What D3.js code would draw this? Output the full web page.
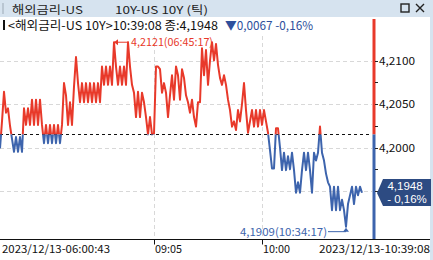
<!DOCTYPE html>
<html>
<head>
<meta charset="utf-8">
<script src="https://cdn.jsdelivr.net/npm/d3@7"></script>
<style>
  body { margin: 0; background: #fff; }
  svg text { font-family: "Noto Sans CJK KR", "DejaVu Sans", sans-serif; }
</style>
</head>
<body>
<div id="chart"></div>
<script>
// tick prices (one value per tick, left to right)
const ticks = [
  4.1999, 4.2030, 4.2064, 4.2040, 4.2045, 4.2025, 4.2010, 4.1995, 4.2012, 4.1995,
  4.2012, 4.1995, 4.2045, 4.2026, 4.2045, 4.2026, 4.2055, 4.2026, 4.2055, 4.2026,
  4.2055, 4.2026, 4.2005, 4.2026, 4.2005, 4.2026, 4.2005, 4.2026, 4.2005, 4.2026,
  4.2005, 4.2026, 4.2074, 4.2060, 4.2026, 4.2052, 4.2026, 4.2070, 4.2104, 4.2074,
  4.2052, 4.2074, 4.2052, 4.2074, 4.2052, 4.2074, 4.2052, 4.2074, 4.2052, 4.2074,
  4.2052, 4.2093, 4.2072, 4.2093, 4.2072, 4.2093, 4.2072, 4.2121, 4.2093, 4.2072,
  4.2093, 4.2072, 4.2093, 4.2072, 4.2121, 4.2093, 4.2072, 4.2063, 4.2035, 4.2064,
  4.2035, 4.2063, 4.2052, 4.2035, 4.2015, 4.2035, 4.2015, 4.2016, 4.2093, 4.2093,
  4.2090, 4.2063, 4.2074, 4.2063, 4.2035, 4.2060, 4.2083, 4.2055, 4.2093, 4.2083,
  4.2055, 4.2090, 4.2080, 4.2060, 4.2052, 4.2040, 4.2055, 4.2035, 4.2024, 4.2052,
  4.2052, 4.2114, 4.2083, 4.2112, 4.2072, 4.2100, 4.2121, 4.2100, 4.2119, 4.2095,
  4.2080, 4.2072, 4.2083, 4.2072, 4.2055, 4.2043, 4.2024, 4.2030, 4.2020, 4.2043,
  4.2030, 4.2050, 4.2074, 4.2043, 4.2017, 4.2030, 4.2043, 4.2024, 4.2043, 4.2024,
  4.2043, 4.2026, 4.2043, 4.2030, 4.2017, 4.1997, 4.1976, 4.1976, 4.2022, 4.2022,
  4.2000, 4.1974, 4.1994, 4.1974, 4.1990, 4.1975, 4.1994, 4.1974, 4.1948, 4.1960,
  4.1948, 4.1974, 4.1994, 4.1974, 4.1994, 4.1974, 4.1948, 4.1994, 4.1985, 4.1994,
  4.2024, 4.1994, 4.1985, 4.1970, 4.1960, 4.1955, 4.1928, 4.1955, 4.1928, 4.1955,
  4.1928, 4.1940, 4.1928, 4.1909, 4.1935, 4.1945, 4.1955, 4.1935, 4.1955, 4.1945,
  4.1955, 4.1948
];

const prevClose = 4.2015;
const yGrid = [4.2100, 4.2050, 4.2000, 4.1950];
const yLabels = [4.2100, 4.2050, 4.2000];
const yMinor = [4.2075, 4.2025, 4.1975];
const xTickIdx = [77, 131];
const xTickText = ["09:05", "10:00"];
const startText = "2023/12/13-06:00:43";
const endText = "2023/12/13-10:39:08";
const maxText = "4,2121(06:45:17)";
const minText = "4,1909(10:34:17)";

const W = 433, H = 260;
const red = "#e8392a", blue = "#3d64ad";
const fmt = v => d3.format(".4f")(v).replace(".", ",");

const svg = d3.select("#chart").append("svg")
    .attr("width", W).attr("height", H);

// window frame and title bar
svg.append("rect").attr("x", 0).attr("y", 0).attr("width", W).attr("height", H).attr("fill", "#d6e3ef");
svg.append("rect").attr("x", 0).attr("y", 17).attr("width", W - 3).attr("height", H - 17).attr("fill", "#fff");
svg.append("rect").attr("x", 2).attr("y", 3).attr("width", 2).attr("height", 11).attr("fill", "#b9c6d2");

svg.append("text").attr("x", 12).attr("y", 13.5).attr("font-size", 11).attr("fill", "#222")
    .attr("textLength", 71).attr("lengthAdjust", "spacingAndGlyphs").text("해외금리-US");
svg.append("text").attr("x", 115).attr("y", 13.5).attr("font-size", 11).attr("fill", "#222")
    .attr("textLength", 93).attr("lengthAdjust", "spacingAndGlyphs").text("10Y-US 10Y (틱)");
svg.append("rect").attr("x", 401).attr("y", 4).attr("width", 8).attr("height", 8)
    .attr("fill", "none").attr("stroke", "#222").attr("stroke-width", 1.4);
svg.append("path").attr("d", "M416,4L424,12M424,4L416,12").attr("stroke", "#222").attr("stroke-width", 1.4);

// header line
svg.append("rect").attr("x", 3).attr("y", 20).attr("width", 2).attr("height", 10).attr("fill", "#111");
svg.append("text").attr("x", 8).attr("y", 30).attr("font-size", 12).attr("fill", "#111")
    .attr("textLength", 210).attr("lengthAdjust", "spacingAndGlyphs")
    .text("<해외금리-US 10Y>10:39:08 종:4,1948");
svg.append("text").attr("x", 225).attr("y", 30).attr("font-size", 12).attr("fill", "#2e4f9c")
    .attr("textLength", 88).attr("lengthAdjust", "spacingAndGlyphs")
    .text("▼0,0067 -0,16%");

// scales
const x = d3.scaleLinear().domain([0, ticks.length - 1]).range([0, 362]);
const y = d3.scaleLinear().domain([4.19, 4.21]).range([234.5, 60.5]);
const axisX = 374, axisY = 239.5, plotTop = 19;

// grid
const g = svg.append("g");
g.selectAll(".hgrid").data(yGrid).join("line")
    .attr("x1", 0).attr("x2", axisX - 2)
    .attr("y1", d => Math.round(y(d)) + 0.5).attr("y2", d => Math.round(y(d)) + 0.5)
    .attr("stroke", "#d8d8d8").attr("stroke-dasharray", "4,3");
g.selectAll(".vgrid").data(xTickIdx).join("line")
    .attr("x1", d => Math.round(x(d)) + 0.5).attr("x2", d => Math.round(x(d)) + 0.5)
    .attr("y1", 36).attr("y2", axisY)
    .attr("stroke", "#d8d8d8").attr("stroke-dasharray", "4,3");

// previous close line
const yc = Math.round(y(prevClose)) + 0.5;
g.append("line").attr("x1", 0).attr("x2", axisX - 2).attr("y1", yc).attr("y2", yc)
    .attr("stroke", "#111").attr("stroke-dasharray", "3,3");

// price line, red above previous close, blue below
const defs = svg.append("defs");
defs.append("clipPath").attr("id", "above").append("rect")
    .attr("x", 0).attr("y", 0).attr("width", axisX).attr("height", y(prevClose));
defs.append("clipPath").attr("id", "below").append("rect")
    .attr("x", 0).attr("y", y(prevClose)).attr("width", axisX).attr("height", H);

const line = d3.line().x((d, i) => x(i)).y(d => y(d));
[["above", red], ["below", blue]].forEach(([id, c]) => {
  g.append("path").datum(ticks)
      .attr("clip-path", `url(#${id})`)
      .attr("d", line)
      .attr("fill", "none").attr("stroke", c).attr("stroke-width", 2)
      .attr("stroke-linejoin", "round");
});

// max / min markers
const maxI = ticks.indexOf(d3.max(ticks));
const minI = ticks.indexOf(d3.min(ticks));
const mx = x(maxI), my = y(ticks[maxI]);
g.append("line").attr("x1", mx).attr("x2", 129).attr("y1", my).attr("y2", my).attr("stroke", red);
g.append("path").attr("d", `M${mx},${my}l4,-3v6z`).attr("fill", red);
g.append("text").attr("x", 131).attr("y", my + 4).attr("font-size", 11).attr("fill", red)
    .attr("textLength", 82).attr("lengthAdjust", "spacingAndGlyphs").text(maxText);

const nx = x(minI), ny = y(ticks[minI]);
g.append("line").attr("x1", 328).attr("x2", nx).attr("y1", ny + 5).attr("y2", ny + 5).attr("stroke", blue);
g.append("path").attr("d", `M${nx},${ny + 1}l-3,4h6z`).attr("fill", blue);
g.append("text").attr("x", 240).attr("y", ny + 9).attr("font-size", 11).attr("fill", blue)
    .attr("textLength", 87).attr("lengthAdjust", "spacingAndGlyphs").text(minText);

// right axis
g.append("line").attr("x1", axisX).attr("x2", axisX).attr("y1", plotTop).attr("y2", y(prevClose))
    .attr("stroke", red).attr("stroke-width", 3);
g.append("line").attr("x1", axisX).attr("x2", axisX).attr("y1", y(prevClose)).attr("y2", axisY)
    .attr("stroke", blue).attr("stroke-width", 3);
g.selectAll(".ytick").data(yGrid.concat(yMinor)).join("line")
    .attr("x1", axisX + 1).attr("x2", axisX + 4)
    .attr("y1", d => Math.round(y(d)) + 0.5).attr("y2", d => Math.round(y(d)) + 0.5)
    .attr("stroke", "#222");
g.selectAll(".ylab").data(yLabels).join("text")
    .attr("x", axisX + 5).attr("y", d => y(d) + 4)
    .attr("font-size", 11).attr("fill", "#111")
    .attr("textLength", 36).attr("lengthAdjust", "spacingAndGlyphs")
    .text(d => fmt(d));

// last price box
const last = ticks[ticks.length - 1];
const pct = (last - prevClose) / prevClose * 100;
const by = 179;
g.append("path")
    .attr("d", `M377,${by + 14}L383,${by}H431V${by + 27}H383Z`)
    .attr("fill", "#2d4b82");
g.append("text").attr("x", 405).attr("y", by + 11).attr("text-anchor", "middle")
    .style("font-family", "'Liberation Sans', sans-serif")
    .attr("font-size", 11.5).attr("fill", "#fff").text(fmt(last));
g.append("text").attr("x", 407).attr("y", by + 24).attr("text-anchor", "middle")
    .style("font-family", "'Liberation Sans', sans-serif")
    .attr("font-size", 11.5).attr("fill", "#fff")
    .text("- " + d3.format(".2f")(Math.abs(pct)).replace(".", ",") + "%");

// bottom axis
g.append("line").attr("x1", 0).attr("x2", W - 3).attr("y1", axisY).attr("y2", axisY)
    .attr("stroke", "#111");
g.selectAll(".xtick").data(xTickIdx).join("line")
    .attr("x1", d => Math.round(x(d)) + 0.5).attr("x2", d => Math.round(x(d)) + 0.5)
    .attr("y1", axisY).attr("y2", axisY + 5).attr("stroke", "#111");
g.selectAll(".xlab").data(xTickIdx).join("text")
    .attr("x", d => x(d) + 1).attr("y", 253)
    .attr("font-size", 11).attr("fill", "#111")
    .attr("textLength", 27).attr("lengthAdjust", "spacingAndGlyphs")
    .text((d, i) => xTickText[i]);
g.append("text").attr("x", 2).attr("y", 253).attr("font-size", 11).attr("fill", "#111")
    .attr("textLength", 108).attr("lengthAdjust", "spacingAndGlyphs").text(startText);
g.append("text").attr("x", 319).attr("y", 253).attr("font-size", 11).attr("fill", "#111")
    .attr("textLength", 111).attr("lengthAdjust", "spacingAndGlyphs").text(endText);
</script>
</body>
</html>
